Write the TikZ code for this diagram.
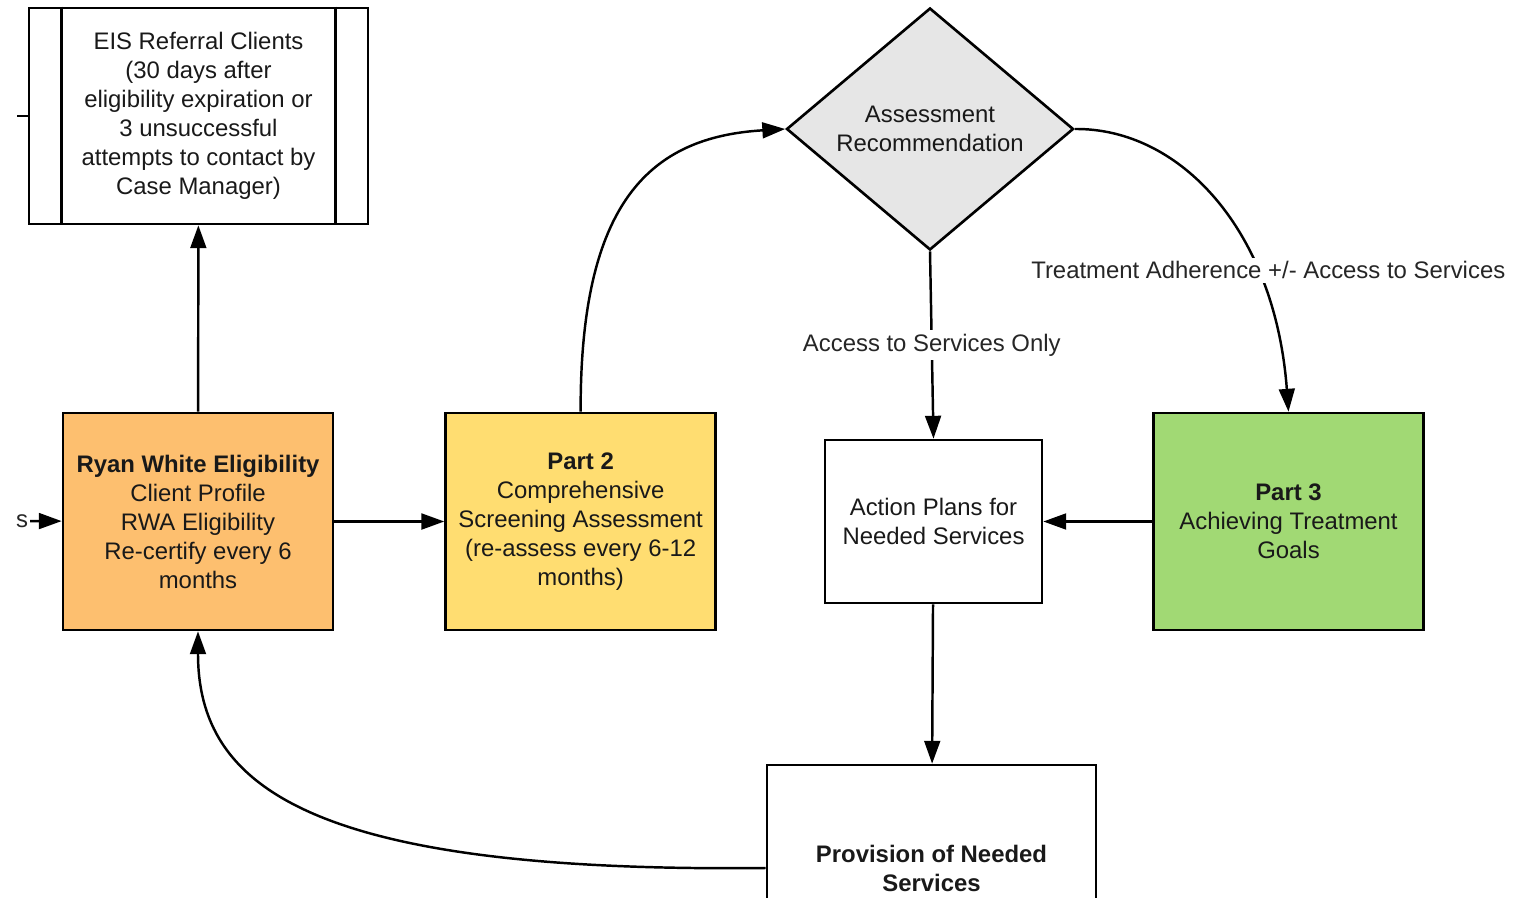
\documentclass[tikz,border=0pt]{standalone}
\usepackage{fontspec}
\setmainfont{Liberation Sans}
\usetikzlibrary{positioning,arrows.meta,shapes.geometric}
\definecolor{rworange}{RGB}{253,191,111}
\definecolor{rwyellow}{RGB}{255,221,113}
\definecolor{rwgreen}{RGB}{161,217,116}
\definecolor{rwgray}{RGB}{230,230,230}

\begin{document}
\begin{tikzpicture}[
			font=\fontsize{13.6}{16.5}\selectfont,
			box/.style={
				draw,
				line width=1.5pt,
				align=center,
				text=black!90,
				minimum width=5.4cm,
				minimum height=4.34cm
			},
			arrow/.style={-{Triangle[length=13pt,width=9pt]},line width=1.4pt},
			edgelabel/.style={fill=white,inner sep=2pt,text=black!85}
			]
			
			\useasboundingbox (0,0) rectangle (30.54,17.94);
			\clip (0,0) rectangle (30.54,17.94);
			
			\node[box,fill=rworange] (ryan) at (3.96,7.51) {\textbf{Ryan White Eligibility}\\Client Profile\\RWA Eligibility\\Re-certify every 6\\months};
			\node[box,fill=rwyellow,right=2.2cm of ryan] (part2) {\textbf{Part 2}\\Comprehensive\\Screening Assessment\\(re-assess every 6-12\\months)};
			\node[box,fill=rwgreen] (part3) at (25.77,7.51) {\textbf{Part 3}\\Achieving Treatment\\Goals};
			\node[box,minimum width=4.34cm,minimum height=3.26cm] (action) at (18.67,7.51) {Action Plans for\\Needed Services};
			\node[box,minimum width=6.78cm,minimum height=4.32cm] (eis) at (3.97,15.62) {EIS Referral Clients\\(30 days after\\eligibility expiration or\\3 unsuccessful\\attempts to contact by\\Case Manager)};
			\node[box,draw,diamond,fill=rwgray,inner sep=0pt,minimum width=5.74cm,minimum height=4.84cm] (assess) at (18.6,15.36) {Assessment\\Recommendation};
			\node[box,minimum width=6.58cm,minimum height=4.12cm] (prov) at (18.63,0.58) {\textbf{Provision of Needed}\\\textbf{Services}};
			\node[text=black!85,inner sep=1pt] (cut) at (0.44,7.52) {s};
			\coordinate (stub) at (0.34,15.62);
			
			% side bars of the EIS box
			\draw[line width=1.5pt] ([xshift=0.68cm]eis.north west) -- ([xshift=0.68cm]eis.south west);
			\draw[line width=1.5pt] ([xshift=-0.68cm]eis.north east) -- ([xshift=-0.68cm]eis.south east);
			\draw[line width=1.4pt] (stub) -- (eis.west);
			
			\draw[arrow] (cut) -- (ryan);
			\draw[arrow] (ryan) -- (eis);
			\draw[arrow] (ryan) -- (part2);
			\draw[arrow] (part2.north) .. controls (11.6,13.9) and (13.0,15.2) .. (assess.west);
			\draw[arrow] (assess.south) -- node[edgelabel] {Access to Services Only} (action.north);
			\draw[arrow] (assess.east) .. controls (23.6,15.38) and (25.5,13.34) .. node[edgelabel,pos=0.7,xshift=0.24cm] {Treatment Adherence +/- Access to Services} (part3.north);
			\draw[arrow] (part3) -- (action);
			\draw[arrow] (action) -- (prov);
			\draw[arrow] (prov.west) .. controls (6.2,0.48) and (3.96,2.2) .. (ryan.south);
			
		\end{tikzpicture}
\end{document}
